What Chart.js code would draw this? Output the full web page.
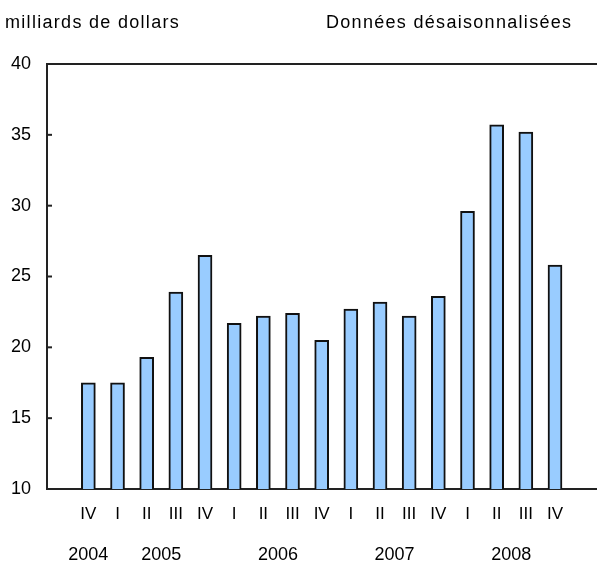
<!DOCTYPE html>
<html><head><meta charset="utf-8">
<script src="https://cdn.jsdelivr.net/npm/chart.js@4/dist/chart.umd.min.js"></script>
<style>html,body{margin:0;padding:0;background:#fff}#wrap{width:597px;height:583px}</style>
</head><body><div id="wrap"><canvas id="c" width="597" height="583"></canvas></div>
<script>
const quarters = ['IV','I','II','III','IV','I','II','III','IV','I','II','III','IV','I','II','III','IV'];
const values = [17.5,17.5,19.3,23.9,26.5,21.7,22.2,22.4,20.5,22.7,23.2,22.2,23.6,29.6,35.7,35.2,25.8];
const years = ['2004','2005','2006','2007','2008'];
const yearPositions = [0, 2.5, 6.5, 10.5, 14.5];
const yTicks = [10,15,20,25,30,35,40];
const unitLabel = 'milliards de dollars';
const noteLabel = 'Données désaisonnalisées';

const FONT = '"Liberation Sans", Arial, sans-serif';
const X_MIN = -1.418, X_MAX = 17.44;

const decor = {
  id: 'decor',
  afterDraw(chart) {
    const ctx = chart.ctx, ca = chart.chartArea, y = chart.scales.y;
    ctx.save();
    ctx.strokeStyle = '#222'; ctx.lineWidth = 2;
    y.ticks.forEach(t => {
      const py = y.getPixelForValue(t.value);
      ctx.beginPath(); ctx.moveTo(ca.left, py); ctx.lineTo(ca.left + 5, py); ctx.stroke();
    });
    ctx.fillStyle = '#000';
    ctx.font = '18px ' + FONT;
    try { ctx.letterSpacing = '1.3px'; } catch (e) {}
    ctx.textAlign = 'left'; ctx.textBaseline = 'alphabetic';
    ctx.fillText(unitLabel, 5, 28);
    ctx.fillText(noteLabel, 326, 28);
    ctx.restore();
  }
};

new Chart(document.getElementById('c'), {
  type: 'bar',
  data: {
    datasets: [{
      data: values.map((v, i) => ({x: i, y: v})),
      backgroundColor: '#99ccff',
      borderColor: '#111',
      borderWidth: 2,
      barThickness: 14
    }]
  },
  options: {
    responsive: false,
    animation: false,
    devicePixelRatio: 1,
    layout: {padding: {top: 64, bottom: 13, left: 0, right: 0}},
    plugins: {legend: {display: false}, tooltip: {enabled: false}},
    scales: {
      x: {
        type: 'linear', min: X_MIN, max: X_MAX, position: 'bottom', offset: false,
        afterBuildTicks: s => { s.ticks = quarters.map((_, i) => ({value: i})); },
        ticks: {
          autoSkip: false, maxRotation: 0, padding: 15.5, color: '#000',
          font: {family: FONT, size: 17},
          callback: v => quarters[v]
        },
        grid: {display: false, drawTicks: false, offset: false},
        border: {display: true, color: '#222', width: 2}
      },
      x2: {
        type: 'linear', axis: 'x', min: X_MIN, max: X_MAX, position: 'bottom', offset: false,
        afterBuildTicks: s => { s.ticks = yearPositions.map(p => ({value: p})); },
        ticks: {
          autoSkip: false, maxRotation: 0, padding: 4, color: '#000',
          font: {family: FONT, size: 18},
          callback: (v, i) => years[i]
        },
        grid: {display: false, drawTicks: false, offset: false},
        border: {display: false}
      },
      y: {
        min: 10, max: 40,
        afterBuildTicks: s => { s.ticks = yTicks.map(v => ({value: v})); },
        afterFit: s => { s.width = 47; },
        ticks: {color: '#000', padding: 16, font: {family: FONT, size: 18}},
        grid: {
          drawTicks: false,
          color: c => (c.tick && c.tick.value === 40) ? '#222' : 'rgba(0,0,0,0)',
          lineWidth: 2
        },
        border: {display: true, color: '#222', width: 2}
      }
    }
  },
  plugins: [decor]
});
</script></body></html>
